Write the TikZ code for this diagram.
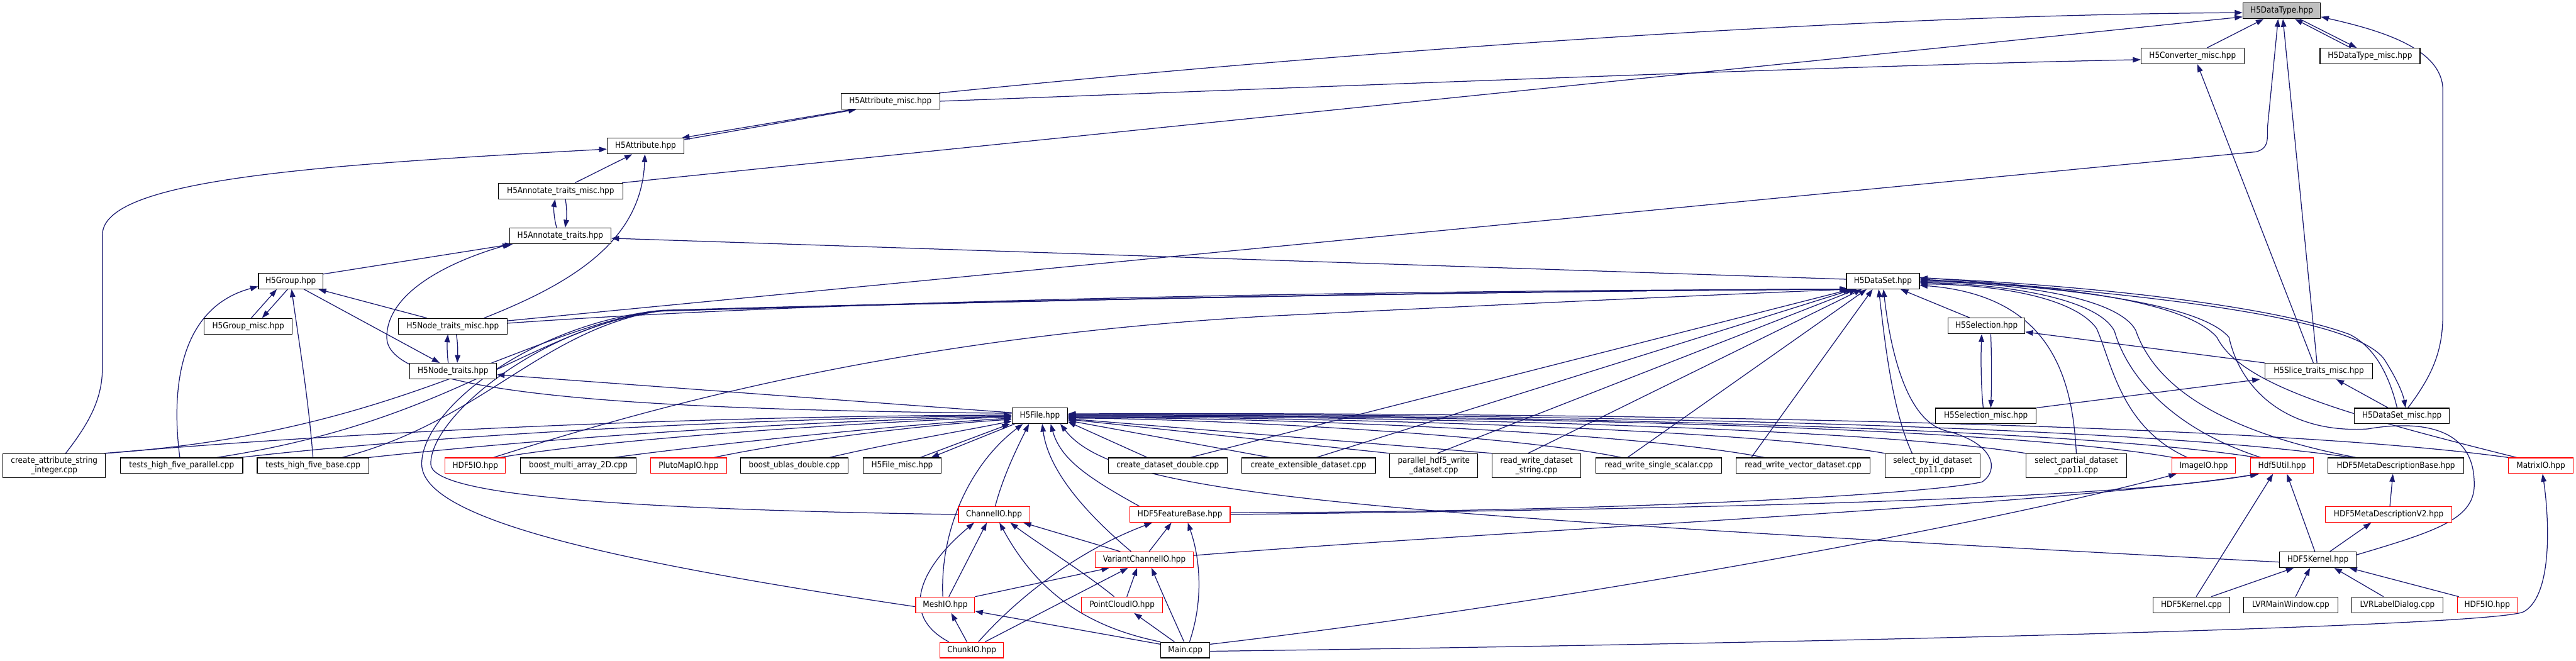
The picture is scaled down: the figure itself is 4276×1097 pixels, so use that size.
\documentclass[tikz,border=0pt]{standalone}
\usepackage{fontspec}
\newfontfamily\nodefont{DejaVu Sans Condensed}
\usetikzlibrary{arrows.meta,calc}
\definecolor{edgec}{HTML}{191970}
\definecolor{dtfill}{HTML}{BFBFBF}
\pgfdeclarelayer{background}
\pgfdeclarelayer{edges}
\pgfsetlayers{background,edges,main}
\tikzset{
 box/.style={draw=black, line width=1.2pt, fill=white, inner sep=0pt, align=center, font=\nodefont\fontsize{14pt}{15pt}\selectfont},
 rbox/.style={box, draw=red},
 gbox/.style={box, fill=dtfill},
 ed/.style={draw=edgec, line width=1.3pt, -{Triangle[length=13pt,width=9pt]}},
}
\newcommand\mybox[7]{\node[#1, minimum width=#5pt, minimum height=#6pt] (#2) at (#3,#4) {#7};}
\begin{document}
\begin{tikzpicture}[x=1pt,y=-1pt]
\begin{pgfonlayer}{background}
\fill[white] (0,0) rectangle (4276,1097);
\end{pgfonlayer}
\useasboundingbox (0,0) rectangle (4276,1097);
% nodes
\mybox{gbox}{DT}{3787.5}{18}{129}{26}{H5DataType.hpp}
\mybox{box}{CONV}{3639.5}{93}{171}{26}{H5Converter\_misc.hpp}
\mybox{box}{DTM}{3934}{93}{166}{26}{H5DataType\_misc.hpp}
\mybox{box}{ATTM}{1478}{168}{164}{26}{H5Attribute\_misc.hpp}
\mybox{box}{ATT}{1071.5}{242.5}{127}{26}{H5Attribute.hpp}
\mybox{box}{ANTM}{930.5}{317}{207}{26}{H5Annotate\_traits\_misc.hpp}
\mybox{box}{ANT}{930}{391.5}{168}{26}{H5Annotate\_traits.hpp}
\mybox{box}{GRP}{482.5}{466.5}{107}{26}{H5Group.hpp}
\mybox{box}{DS}{3125.5}{466.5}{121}{26}{H5DataSet.hpp}
\mybox{box}{GRPM}{412}{541.5}{146}{26}{H5Group\_misc.hpp}
\mybox{box}{NTM}{751.5}{541.5}{181}{26}{H5Node\_traits\_misc.hpp}
\mybox{box}{SEL}{3297.5}{541}{127}{26}{H5Selection.hpp}
\mybox{box}{NT}{752}{616}{144}{26}{H5Node\_traits.hpp}
\mybox{box}{SLT}{3849}{616}{178}{26}{H5Slice\_traits\_misc.hpp}
\mybox{box}{FILE}{1726}{690}{92}{26}{H5File.hpp}
\mybox{box}{SELM}{3296.5}{690.5}{167}{26}{H5Selection\_misc.hpp}
\mybox{box}{DSM}{3987}{690.5}{158}{26}{H5DataSet\_misc.hpp}
\mybox{box}{CASI}{90}{773}{170}{40}{create\_attribute\_string\\\_integer.cpp}
\mybox{box}{THFP}{301.5}{773}{203}{26}{tests\_high\_five\_parallel.cpp}
\mybox{box}{THFB}{519.5}{773}{185}{26}{tests\_high\_five\_base.cpp}
\mybox{rbox}{HIOa}{789}{773}{100}{26}{HDF5IO.hpp}
\mybox{box}{BMA}{960}{773}{192}{26}{boost\_multi\_array\_2D.cpp}
\mybox{rbox}{PMIO}{1143}{773}{126}{26}{PlutoMapIO.hpp}
\mybox{box}{BUD}{1318.5}{773}{179}{26}{boost\_ublas\_double.cpp}
\mybox{box}{FM}{1497.5}{773}{129}{26}{H5File\_misc.hpp}
\mybox{box}{CDD}{1938.5}{773}{197}{26}{create\_dataset\_double.cpp}
\mybox{box}{CED}{2172}{773}{222}{26}{create\_extensible\_dataset.cpp}
\mybox{box}{PHW}{2380}{773}{146}{40}{parallel\_hdf5\_write\\\_dataset.cpp}
\mybox{box}{RWDS}{2550.5}{773}{147}{40}{read\_write\_dataset\\\_string.cpp}
\mybox{box}{RWSS}{2753.5}{773}{209}{26}{read\_write\_single\_scalar.cpp}
\mybox{box}{RWVD}{2993}{773}{222}{26}{read\_write\_vector\_dataset.cpp}
\mybox{box}{SBI}{3208}{773}{158}{40}{select\_by\_id\_dataset\\\_cpp11.cpp}
\mybox{box}{SPD}{3446.5}{773}{167}{40}{select\_partial\_dataset\\\_cpp11.cpp}
\mybox{rbox}{IMG}{3658}{773}{106}{26}{ImageIO.hpp}
\mybox{rbox}{HU}{3788}{773}{104}{26}{Hdf5Util.hpp}
\mybox{box}{MDB}{3977}{773}{226}{26}{HDF5MetaDescriptionBase.hpp}
\mybox{rbox}{MIO}{4217.5}{773}{107}{26}{MatrixIO.hpp}
\mybox{rbox}{CH}{1650}{854}{118}{26}{ChannelIO.hpp}
\mybox{rbox}{FB}{1958.5}{854}{167}{26}{HDF5FeatureBase.hpp}
\mybox{rbox}{MDV}{3965}{854}{210}{26}{HDF5MetaDescriptionV2.hpp}
\mybox{rbox}{VC}{1899.5}{929}{163}{26}{VariantChannelIO.hpp}
\mybox{box}{KH}{3847.5}{929}{127}{26}{HDF5Kernel.hpp}
\mybox{rbox}{MESH}{1569}{1004}{98}{26}{MeshIO.hpp}
\mybox{rbox}{PC}{1862.5}{1004}{135}{26}{PointCloudIO.hpp}
\mybox{box}{KC}{3637.5}{1004}{127}{26}{HDF5Kernel.cpp}
\mybox{box}{LMW}{3802.5}{1004}{157}{26}{LVRMainWindow.cpp}
\mybox{box}{LLD}{3979.5}{1004}{151}{26}{LVRLabelDialog.cpp}
\mybox{rbox}{HIOb}{4128.5}{1004}{99}{26}{HDF5IO.hpp}
\mybox{rbox}{CHUNK}{1613}{1079}{106}{26}{ChunkIO.hpp}
\mybox{box}{MAIN}{1967.5}{1079}{81}{26}{Main.cpp}
\begin{pgfonlayer}{edges}
% top part
\draw[ed] ([xshift=-2pt]ATTM.north east) .. controls (2300,80) and (3100,25) .. ([yshift=-3pt]DT.west);
\draw[ed] (ATTM.east) .. controls (2300,140) and (3100,108) .. ([yshift=-6pt]CONV.west);
\draw[ed] ([xshift=-2pt]ANTM.north east) -- ([yshift=-10pt]DT.west);
\draw[ed] ([yshift=9pt]NTM.east) -- (3745,252) .. controls (3765,246) and (3764,235) .. (3764,210) -- ([xshift=-6pt]DT.south);
\draw[ed] ([xshift=24pt]CONV.north) -- ([xshift=-30pt]DT.south);
\draw[ed] ([xshift=-32pt]DTM.north) -- ([xshift=22pt]DT.south);
\draw[ed] ([xshift=30pt]DT.south) -- ([xshift=-22pt]DTM.north);
\draw[ed] ([xshift=10pt]DSM.north) .. controls (4040,620) and (4055,580) .. (4055,520) -- (4055,150) .. controls (4055,80) and (3950,50) .. ([yshift=-10pt]DT.east);
\draw[ed] ([xshift=-3pt]SLT.north) -- ([xshift=2pt]DT.south);
\draw[ed] ([xshift=-9pt]SLT.north) -- ([xshift=8pt]CONV.south);
\draw[ed] ([xshift=20pt]ATTM.south west) -- ([xshift=-4pt]ATT.north east);
\draw[ed] ([yshift=-3pt]ATT.north east) -- ([xshift=26pt]ATTM.south west);
\draw[ed] ([xshift=24pt]ANTM.north) -- ([xshift=-22pt]ATT.south);
\draw[ed] ([xshift=19pt]CASI.north) .. controls (150,700) and (170,660) .. (170,610) -- (170,390) .. controls (170,300) and (500,275) .. ([yshift=-5pt]ATT.west);
\draw[ed] ([xshift=52pt]NTM.north) .. controls (950,470) and (1065,400) .. ([xshift=-1pt]ATT.south);
\draw[ed] ([xshift=-6pt]ANT.north) .. controls (919,360) and (919,345) .. ([xshift=-9pt]ANTM.south);
\draw[ed] ([xshift=8pt]ANTM.south) .. controls (941,345) and (941,360) .. ([xshift=8pt]ANT.north);
\draw[ed] ([yshift=-2pt]GRP.north east) -- ([xshift=6pt]ANT.south west);
\draw[ed] ([yshift=4pt]FILE.west) .. controls (1000,680) and (642,650) .. (642,560) .. controls (642,480) and (760,430) .. ([xshift=2pt]ANT.south west);
\draw[ed] ([yshift=3pt]DS.west) -- ([yshift=-4pt]ANT.east);
\draw[ed] ([xshift=5pt]GRPM.north) -- ([xshift=-23pt]GRP.south);
\draw[ed] ([xshift=-5pt]GRP.south) -- ([xshift=23pt]GRPM.north);
\draw[ed] ([xshift=-3pt]THFP.north) .. controls (283,640) and (300,510) .. ([yshift=-9pt]GRP.west);
\draw[ed] (THFB.north) .. controls (512,660) and (495,560) .. ([xshift=1.5pt]GRP.south);
\draw[ed] ([xshift=-43pt]NTM.north) -- ([xshift=46pt]GRP.south);
\draw[ed] ([xshift=22pt]GRP.south) -- ([xshift=-22pt]NT.north);
\draw[ed] ([xshift=-8pt]NT.north) .. controls (742,585) and (742,570) .. ([xshift=-8pt]NTM.south);
\draw[ed] ([xshift=6pt]NTM.south) .. controls (760,570) and (760,585) .. ([xshift=7pt]NT.north);
\draw[ed] ([yshift=5pt]FILE.west) -- ([yshift=-6pt]NT.east);
% to H5DataSet from the left
\draw[ed] ([yshift=5pt]NTM.east) .. controls (1400,497) and (2300,482) .. ([xshift=2pt]DS.south west);
\draw[ed] ([xshift=-2pt]CASI.north east) .. controls (650,720) and (850,560) .. (1080,517) .. controls (1800,495) and (2600,482) .. ([xshift=3pt]DS.south west);
\draw[ed] ([xshift=58pt]THFP.north) .. controls (750,700) and (880,550) .. (1090,516) .. controls (1800,495) and (2600,482) .. ([xshift=3pt]DS.south west);
\draw[ed] ([xshift=48pt]THFB.north) .. controls (800,700) and (900,545) .. (1100,515) .. controls (1800,495) and (2600,482) .. ([xshift=4pt]DS.south west);
\draw[ed] ([xshift=30pt]HIOa.north) .. controls (1100,670) and (1500,560) .. (2100,525) .. controls (2600,500) and (2950,485) .. ([xshift=5pt]DS.south west);
\draw[ed] (CH.west) .. controls (1000,845) and (715,820) .. (715,770) .. controls (715,690) and (900,540) .. (1100,516) .. controls (1800,495) and (2600,482) .. ([xshift=4pt]DS.south west);
\draw[ed] ([yshift=-3pt]MESH.west) .. controls (1000,930) and (700,860) .. (700,770) .. controls (700,680) and (880,540) .. (1090,516) .. controls (1800,495) and (2600,482) .. ([xshift=4pt]DS.south west);
\draw[ed] ([xshift=37pt]CDD.north) -- ([xshift=8pt]DS.south west);
\draw[ed] ([xshift=13pt]CED.north) -- ([xshift=12pt]DS.south west);
\draw[ed] ([xshift=6pt]PHW.north) -- ([xshift=18pt]DS.south west);
\draw[ed] ([xshift=-14pt]RWDS.north) -- ([xshift=26pt]DS.south west);
\draw[ed] ([xshift=-52pt]RWSS.north) -- ([xshift=34pt]DS.south west);
\draw[ed] ([xshift=-86pt]RWVD.north) -- ([xshift=44pt]DS.south west);
\draw[ed] ([xshift=-34pt]SBI.north) .. controls (3140,680) and (3128,560) .. ([xshift=54pt]DS.south west);
\draw[ed] ([yshift=3pt]FB.east) .. controls (2700,850) and (3200,820) .. (3290,800) .. controls (3320,780) and (3310,735) .. (3230,715) .. controls (3170,700) and (3140,600) .. ([xshift=62pt]DS.south west);
\draw[ed] ([xshift=-28pt]SEL.north) -- ([xshift=-32pt]DS.south east);
% to H5DataSet from the right
\draw[ed] (SPD.north) .. controls (3440,620) and (3400,490) .. ([yshift=-7pt]DS.east);
\draw[ed] ([xshift=-27pt]IMG.north) .. controls (3520,710) and (3505,600) .. (3480,545) .. controls (3440,490) and (3300,472) .. ([yshift=-5pt]DS.east);
\draw[ed] ([xshift=-35pt]HU.north) .. controls (3600,710) and (3530,620) .. (3510,550) .. controls (3480,490) and (3300,470) .. ([yshift=-3pt]DS.east);
\draw[ed] ([xshift=-66pt]MDB.north) .. controls (3650,710) and (3570,620) .. (3545,548) .. controls (3510,485) and (3300,468) .. ([yshift=-1pt]DS.east);
\draw[ed] ([xshift=-40pt]MIO.north) .. controls (3900,690) and (3720,640) .. (3680,560) .. controls (3620,490) and (3350,470) .. ([yshift=1pt]DS.east);
\draw[ed] ([yshift=8pt]KH.east) .. controls (4050,880) and (4110,860) .. (4107,800) .. controls (4105,700) and (4000,700) .. (3930,712) .. controls (3800,720) and (3720,650) .. (3700,560) .. controls (3650,500) and (3400,475) .. ([yshift=3pt]DS.east);
\draw[ed] ([yshift=6pt]DS.east) .. controls (3600,490) and (3920,530) .. (3960,600) .. controls (3985,640) and (3990,660) .. ([xshift=6pt]DSM.north);
\draw[ed] ([xshift=-8pt]DSM.north) .. controls (3970,640) and (3950,580) .. (3900,555) .. controls (3750,500) and (3400,470) .. ([yshift=5pt]DS.east);
\draw[ed] ([xshift=-23pt]DSM.north) -- ([xshift=29pt]SLT.south);
\draw[ed] ([xshift=-4.5pt]SELM.north) .. controls (3288,640) and (3288,590) .. ([xshift=-8pt]SEL.south);
\draw[ed] ([xshift=7pt]SEL.south) .. controls (3306,590) and (3306,640) .. ([xshift=8pt]SELM.north);
\draw[ed] (SLT.north west) -- ([yshift=-10pt]SEL.east);
\draw[ed] (SELM.north east) -- ([xshift=-8pt]SLT.south west);
% to H5File from the left
\draw[ed] (CASI.north east) .. controls (600,715) and (1200,690) .. ([yshift=1pt]FILE.west);
\draw[ed] ([xshift=-5pt]THFP.north east) .. controls (700,725) and (1200,695) .. (FILE.west);
\draw[ed] (THFB.north east) .. controls (900,728) and (1300,700) .. ([yshift=-1pt]FILE.west);
\draw[ed] ([xshift=-10pt]HIOa.north east) .. controls (1000,730) and (1400,702) .. ([yshift=-2pt]FILE.west);
\draw[ed] ([xshift=59pt]BMA.north) .. controls (1200,735) and (1500,705) .. ([yshift=-4pt]FILE.west);
\draw[ed] ([xshift=42pt]PMIO.north) .. controls (1300,735) and (1500,708) .. ([yshift=-6pt]FILE.west);
\draw[ed] ([xshift=58pt]BUD.north) .. controls (1480,735) and (1600,715) .. ([yshift=-9pt]FILE.west);
\draw[ed] ([xshift=30pt]FM.north) -- ([xshift=-3pt]FILE.south west);
\draw[ed] ([xshift=5pt]FILE.south west) -- ([xshift=48pt]FM.north);
% to H5File from below
\draw[ed] ([xshift=2pt]CH.north) .. controls (1665,790) and (1690,740) .. ([xshift=-18pt]FILE.south);
\draw[ed] ([xshift=-4pt]MESH.north) .. controls (1560,880) and (1610,770) .. ([xshift=-28pt]FILE.south);
\draw[ed] ([xshift=-67pt]FB.north) .. controls (1800,790) and (1760,760) .. ([xshift=18pt]FILE.south);
\draw[ed] ([xshift=-22pt]VC.north) .. controls (1800,850) and (1740,780) .. ([xshift=4pt]FILE.south);
\draw[ed] ([yshift=-4pt]KH.west) .. controls (2200,850) and (1850,820) .. ([xshift=34pt]FILE.south);
% to H5File from the right
\draw[ed] ([xshift=-34pt]CDD.north) -- ([yshift=-10pt]FILE.east);
\draw[ed] ([xshift=-64pt]CED.north) -- ([yshift=-8pt]FILE.east);
\draw[ed] (PHW.north west) -- ([yshift=-6pt]FILE.east);
\draw[ed] (RWDS.north west) -- ([yshift=-5pt]FILE.east);
\draw[ed] ([xshift=-62pt]RWSS.north) .. controls (2500,720) and (2000,695) .. ([yshift=-4pt]FILE.east);
\draw[ed] ([xshift=-64pt]RWVD.north) .. controls (2700,715) and (2100,693) .. ([yshift=-3pt]FILE.east);
\draw[ed] (SBI.north west) .. controls (2900,712) and (2200,692) .. ([yshift=-2pt]FILE.east);
\draw[ed] (SPD.north west) .. controls (3100,710) and (2300,690) .. ([yshift=-1pt]FILE.east);
\draw[ed] ([xshift=-51pt]IMG.north) .. controls (3300,705) and (2400,690) .. (FILE.east);
\draw[ed] ([xshift=-42pt]HU.north) .. controls (3400,705) and (2400,688) .. ([yshift=1pt]FILE.east);
\draw[ed] ([xshift=-74pt]MDB.north) .. controls (3500,700) and (2400,686) .. ([yshift=2pt]FILE.east);
\draw[ed] ([xshift=-54pt]MIO.north) .. controls (3700,695) and (2400,684) .. ([yshift=3pt]FILE.east);
% lower left group
\draw[ed] ([xshift=6pt]MESH.north) -- ([xshift=-12pt]CH.south);
\draw[ed] ([xshift=-38pt]CHUNK.north) .. controls (1490,1020) and (1530,940) .. ([xshift=-33pt]CH.south);
\draw[ed] ([xshift=-40pt]VC.north) -- ([xshift=-11pt]CH.south east);
\draw[ed] ([xshift=-13pt]PC.north) .. controls (1800,950) and (1720,900) .. ([xshift=27pt]CH.south);
\draw[ed] (MAIN.north west) .. controls (1800,1040) and (1720,980) .. ([xshift=9pt]CH.south);
\draw[ed] ([xshift=8pt]VC.north) -- ([xshift=-14pt]FB.south);
\draw[ed] ([xshift=11pt]CHUNK.north) .. controls (1700,980) and (1800,910) .. ([xshift=-46pt]FB.south);
\draw[ed] ([xshift=7pt]MAIN.north) .. controls (2000,990) and (1990,920) .. ([xshift=13pt]FB.south);
\draw[ed] (MESH.north east) -- ([xshift=-58pt]VC.south);
\draw[ed] ([xshift=22pt]CHUNK.north) -- ([xshift=-27pt]VC.south);
\draw[ed] ([xshift=8pt]PC.north) -- ([xshift=-12pt]VC.south);
\draw[ed] ([xshift=-2pt]MAIN.north) .. controls (1945,1020) and (1925,975) .. ([xshift=12pt]VC.south);
\draw[ed] ([xshift=-8pt]CHUNK.north) -- ([xshift=10pt]MESH.south);
\draw[ed] ([yshift=-4pt]MAIN.north west) -- ([yshift=3pt]MESH.south east);
\draw[ed] ([xshift=-18pt]MAIN.north) -- ([xshift=20pt]PC.south);
\draw[ed] ([yshift=-4pt]MAIN.north east) .. controls (2600,1000) and (3300,870) .. ([xshift=-45pt]IMG.south);
\draw[ed] ([yshift=-2pt]MAIN.east) .. controls (3000,1068) and (4150,1040) .. (4190,1015) .. controls (4240,985) and (4230,850) .. ([xshift=3pt]MIO.south);
\draw[ed] (FB.east) .. controls (2800,845) and (3500,830) .. ([xshift=-40pt]HU.south);
\draw[ed] ([yshift=7pt]VC.east) .. controls (2500,880) and (3400,840) .. ([xshift=-38pt]HU.south);
% lower right group
\draw[ed] ([xshift=8pt]KC.north) -- ([xshift=-15pt]HU.south);
\draw[ed] ([xshift=-5pt]KH.north) -- ([xshift=8pt]HU.south);
\draw[ed] ([xshift=20pt]KH.north) -- ([xshift=-29pt]MDV.south);
\draw[ed] ([xshift=2pt]MDV.north) -- ([xshift=-5pt]MDB.south);
\draw[ed] ([xshift=33pt]KC.north) -- ([xshift=-40pt]KH.south);
\draw[ed] ([xshift=8pt]LMW.north) -- ([xshift=-13pt]KH.south);
\draw[ed] ([xshift=-23pt]LLD.north) -- ([xshift=27pt]KH.south);
\draw[ed] ([xshift=-47pt]HIOb.north) -- ([xshift=-12pt]KH.south east);
\end{pgfonlayer}
\end{tikzpicture}
\end{document}
